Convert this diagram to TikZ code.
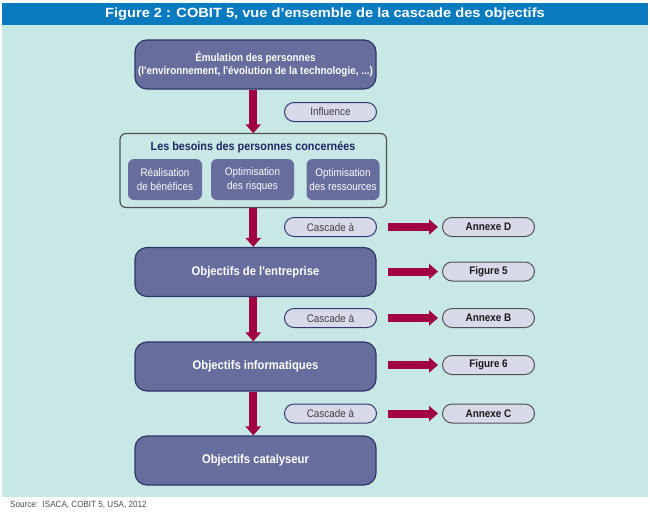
\documentclass[tikz,border=0pt]{standalone}
\usepackage{fontspec}
\setmainfont{Liberation Sans}
\newfontfamily\condfont[FakeStretch=0.9]{Liberation Sans}
\newfontfamily\titlefont[FakeStretch=1.1]{Liberation Sans}
\usetikzlibrary{positioning, arrows.meta}

\definecolor{barblue}{HTML}{0B7BC0}
\definecolor{panel}{HTML}{C8E8E6}
\definecolor{boxfill}{HTML}{676D9C}
\definecolor{boxline}{HTML}{2E3568}
\definecolor{pillfill}{HTML}{D9DAE9}
\definecolor{pillline}{HTML}{2F3A72}
\definecolor{refline}{HTML}{505258}
\definecolor{flowred}{HTML}{A0033F}
\definecolor{navytext}{HTML}{1C2760}

\tikzset{
  goalbox/.style={draw=boxline, line width=1.2pt, fill=boxfill, rounded corners=12pt,
    minimum width=241pt, minimum height=49pt, inner sep=0pt, text=white, align=center,
    font=\condfont\bfseries\fontsize{12.5}{15}\selectfont},
  needbox/.style={fill=boxfill, rounded corners=6pt, minimum height=41pt, inner sep=0pt,
    text=white, align=center, font=\condfont\fontsize{11}{14}\selectfont},
  pill/.style={draw=pillline, line width=1pt, fill=pillfill, rounded corners=9.5pt,
    minimum width=92pt, minimum height=19pt, inner sep=0pt, text=black!75,
    font=\condfont\fontsize{11}{13}\selectfont},
  refpill/.style={pill, draw=refline, text=black!90, font=\condfont\bfseries\fontsize{11}{13}\selectfont},
  flow/.style={draw=flowred, line width=8pt, -{Triangle[length=9pt,width=15pt]}},
  sideflow/.style={flow, shorten <=11pt, shorten >=4pt}
}

\begin{document}
\begin{tikzpicture}[x=1pt, y=-1pt]
\useasboundingbox (0,0) rectangle (650,512);

% title bar and panel
\fill[barblue] (2,3) rectangle (648,25);
\fill[panel] (2,25) rectangle (648,497);
\node[text=white, font=\titlefont\bfseries\fontsize{13.3}{15}\selectfont] (title) at (325,14)
    {Figure 2 : COBIT 5, vue d’ensemble de la cascade des objectifs};

% main column
\node[goalbox, font=\condfont\bfseries\fontsize{11}{13.5}\selectfont] (emul) at (255.5,64.5)
    {Émulation des personnes\\(l'environnement, l'évolution de la technologie, ...)};

\draw[draw=refline, line width=1.2pt, rounded corners=6pt] (120,133.5) rectangle (386.5,207.5);
\node[font=\condfont\bfseries\fontsize{12}{14}\selectfont, text=navytext] (besoinstitle) at (253,147)
    {Les besoins des personnes concernées};
\node[inner sep=0pt, minimum width=266.5pt, minimum height=74pt] (besoins) at (253.25,170.5) {};
\node[needbox, minimum width=74pt] (real) at (165,179.5) {Réalisation\\de bénéfices};
\node[needbox, minimum width=83pt] (optrisk) at (252.5,179.5) {Optimisation\\des risques};
\node[needbox, minimum width=73pt] (optres) at (343,179.5) {Optimisation\\des ressources};

\node[goalbox] (entreprise) at (255.5,272) {Objectifs de l'entreprise};
\node[goalbox] (informatique) at (255.5,366.5) {Objectifs informatiques};
\node[goalbox] (catalyseur) at (255.5,460.5) {Objectifs catalyseur};

% side labels
\node[pill] (influence) at (330.5,112) {Influence};
\node[pill] (casc1) at (330.5,227) {Cascade à};
\node[pill] (casc2) at (330.5,318) {Cascade à};
\node[pill] (casc3) at (330.5,413.5) {Cascade à};

\node[refpill] (annexeD) at (488.5,227) {Annexe D};
\node[refpill] (fig5) at (488.5,271.5) {Figure 5};
\node[refpill] (annexeB) at (488.5,318) {Annexe B};
\node[refpill] (fig6) at (488.5,365) {Figure 6};
\node[refpill] (annexeC) at (488.5,413.5) {Annexe C};

% downward arrows
\draw[flow] (emul.south -| besoins) -- (besoins.north);
\draw[flow] (besoins.south) -- (besoins.south |- entreprise.north);
\draw[flow] (entreprise.south -| besoins) -- (besoins |- informatique.north);
\draw[flow] (informatique.south -| besoins) -- (besoins |- catalyseur.north);

% arrows to the references
\draw[sideflow] (casc1.east) -- (annexeD.west);
\draw[sideflow] (entreprise.east |- fig5) -- (fig5.west);
\draw[sideflow] (casc2.east) -- (annexeB.west);
\draw[sideflow] (informatique.east |- fig6) -- (fig6.west);
\draw[sideflow] (casc3.east) -- (annexeC.west);

% source
\node[anchor=west, inner sep=0pt, text=black!70, font=\condfont\fontsize{9}{11}\selectfont] (source) at (10,505)
    {Source:\ \ ISACA, COBIT 5, USA, 2012};
\end{tikzpicture}
\end{document}
